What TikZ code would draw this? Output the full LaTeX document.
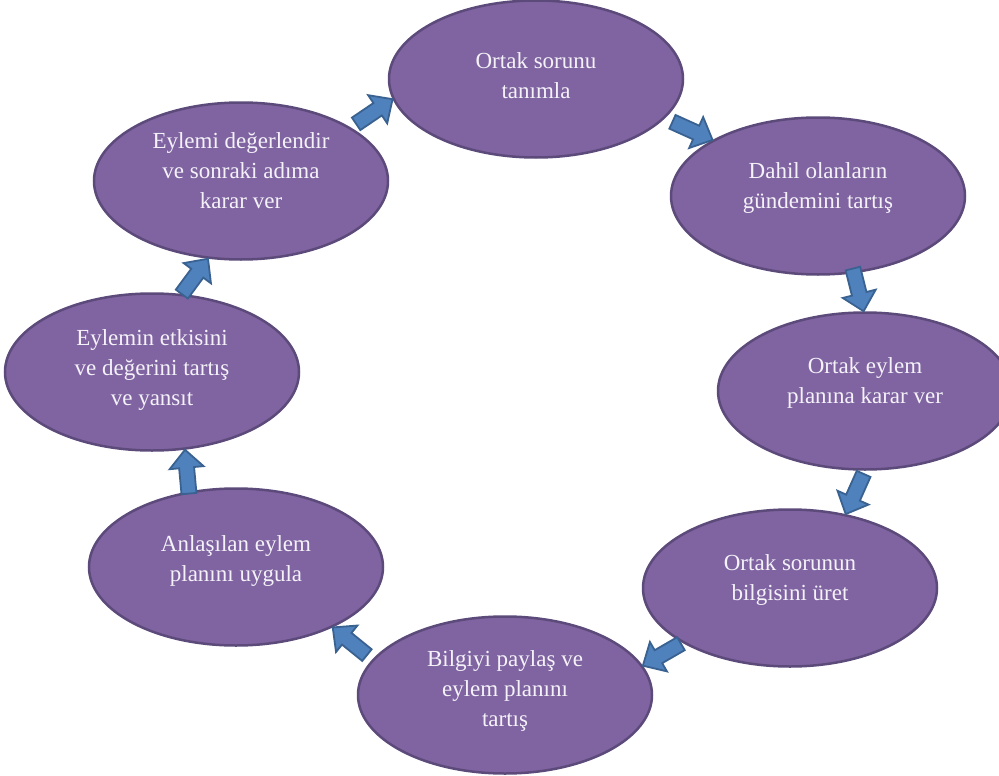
\documentclass[tikz,border=0pt]{standalone}
\usepackage{fontspec}
\setmainfont{Liberation Serif}
\usetikzlibrary{shapes.geometric,calc}

\definecolor{stagefill}{HTML}{8064A2}
\definecolor{stageline}{HTML}{5C4A7A}
\definecolor{stagetext}{HTML}{F4F2F8}
\definecolor{arrowfill}{HTML}{4F81BD}
\definecolor{arrowline}{HTML}{3A6291}

% block arrow: #1 gives the direction of the tail, #2 is the tip
\newcommand{\cyclearrow}[2]{%
  \coordinate (tip) at (#2);
  \coordinate (tail) at ($(tip)!44pt!(#1)$);
  \coordinate (neck) at ($(tip)!18pt!(tail)$);
  \filldraw[arrowbody] ($(tail)!7.5pt!90:(tip)$) -- ($(neck)!7.5pt!90:(tip)$)
    -- ($(neck)!17pt!90:(tip)$) -- (tip) -- ($(neck)!17pt!-90:(tip)$)
    -- ($(neck)!7.5pt!-90:(tip)$) -- ($(tail)!7.5pt!-90:(tip)$) -- cycle;
}

\begin{document}
\begin{tikzpicture}[x=1pt,y=-1pt,
    stage/.style={ellipse, draw=stageline, fill=stagefill, line width=2.5pt,
      minimum width=294pt, minimum height=157pt, inner sep=0pt},
    caption/.style={align=center, text=stagetext, inner sep=0pt,
      font=\fontsize{23}{30}\selectfont},
    arrowbody/.style={fill=arrowfill, draw=arrowline, line width=1.8pt}]
    \fill[white] (0,0) rectangle (999,776);
    \useasboundingbox (0,0) rectangle (999,776);

    \node[stage] (e1) at (536,79) {};
    \node[stage] (e2) at (818,196) {};
    \node[stage] (e3) at (865,391) {};
    \node[stage] (e4) at (790,588) {};
    \node[stage] (e5) at (505,695) {};
    \node[stage] (e6) at (236,567) {};
    \node[stage] (e7) at (152,372) {};
    \node[stage] (e8) at (241,181) {};

    \node[caption] (t1) at ([yshift=3pt]e1.center) {Ortak sorunu\\tanımla};
    \node[caption] (t2) at ([yshift=8pt]e2.center) {Dahil olanların\\gündemini tartış};
    \node[caption] (t3) at ([yshift=8pt]e3.center) {Ortak eylem\\planına karar ver};
    \node[caption] (t4) at ([yshift=8pt]e4.center) {Ortak sorunun\\bilgisini üret};
    \node[caption] (t5) at ([yshift=4pt]e5.center) {Bilgiyi paylaş ve\\eylem planını\\tartış};
    \node[caption] (t6) at ([yshift=6pt]e6.center) {Anlaşılan eylem\\planını uygula};
    \node[caption] (t7) at ([yshift=2pt]e7.center) {Eylemin etkisini\\ve değerini tartış\\ve yansıt};
    \node[caption] (t8) at ([yshift=10pt]e8.center) {Eylemi değerlendir\\ve sonraki adıma\\karar ver};

    \cyclearrow{e8.26}{e1.188}
    \cyclearrow{e1.343}{e2.152}
    \cyclearrow{e2.295}{e3.91}
    \cyclearrow{e3.270}{e4.53}
    \cyclearrow{e4.207}{e5.12}
    \cyclearrow{e5.165}{e6.328}
    \cyclearrow{e6.122}{e7.293}
    \cyclearrow{e7.69}{e8.247}
\end{tikzpicture}
\end{document}
